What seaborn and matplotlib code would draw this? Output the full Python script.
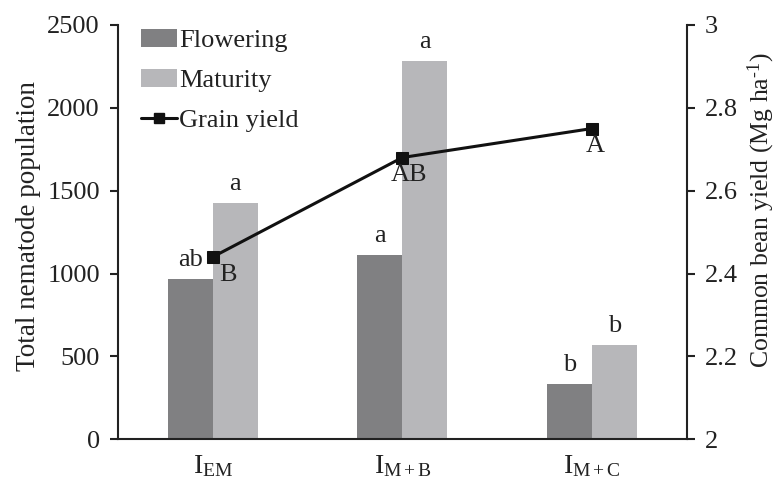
import numpy as np
import pandas as pd
import matplotlib
matplotlib.use("Agg")
import matplotlib.pyplot as plt
import seaborn as sns
from matplotlib.patches import Patch
from matplotlib.lines import Line2D

treatments = ["I$_{\\mathrm{EM}}$", "I$_{\\mathrm{M+B}}$", "I$_{\\mathrm{M+C}}$"]
flowering = [966, 1111, 332]
maturity = [1425, 2283, 568]
grain_yield = [2.44, 2.68, 2.75]
flowering_letters = ["ab", "a", "b"]
maturity_letters = ["a", "a", "b"]
yield_letters = ["B", "AB", "A"]

sns.set_style("white")
plt.rcParams["font.family"] = ["Liberation Serif", "DejaVu Serif"]
plt.rcParams["mathtext.fontset"] = "custom"
plt.rcParams["mathtext.rm"] = "Liberation Serif"
plt.rcParams["mathtext.it"] = "Liberation Serif:italic"
plt.rcParams["font.size"] = 19

df = pd.DataFrame({
    "treatment": treatments * 2,
    "stage": ["Flowering"] * 3 + ["Maturity"] * 3,
    "population": flowering + maturity,
})

c_flow = "#808082"
c_mat = "#b7b7ba"
txt = "#222222"

fig = plt.figure(figsize=(7.76, 4.8), dpi=100)
ax = fig.add_axes([0.152, 0.085, 0.733, 0.863])

sns.barplot(data=df, x="treatment", y="population", hue="stage",
            hue_order=["Flowering", "Maturity"], palette=[c_flow, c_mat],
            width=0.475, gap=0, saturation=1, edgecolor="none", linewidth=0,
            legend=False, ax=ax)

ax.set_xlim(-0.5, 2.5)
ax.set_ylim(0, 2500)
ax.set_yticks(np.arange(0, 2501, 500))
ax.set_xlabel("")
ax.set_ylabel("Total nematode population", color=txt, fontsize=19.5)
ax.yaxis.set_label_coords(-0.136, 0.515)

ax2 = ax.twinx()
xs = np.arange(len(treatments))
sns.lineplot(x=xs, y=grain_yield, ax=ax2, color="#111111", linewidth=2.2,
             marker="s", markersize=8, markeredgecolor="#111111")
ax2.set_ylim(2, 3)
ax2.set_yticks([2, 2.2, 2.4, 2.6, 2.8, 3])
ax2.set_yticklabels(["2", "2.2", "2.4", "2.6", "2.8", "3"])
ax2.set_ylabel("Common bean yield (Mg ha$^{\\text{-1}}$)", color=txt, fontsize=18.5)
ax2.yaxis.set_label_coords(1.103, 0.553)

bw = 0.475 / 2
for i in range(len(treatments)):
    ax.annotate(flowering_letters[i], (i - bw / 2, flowering[i]),
                xytext=(0, 6), textcoords="offset points",
                ha="center", va="bottom", color=txt)
    ax.annotate(maturity_letters[i], (i + bw / 2, maturity[i]),
                xytext=(0, 6), textcoords="offset points",
                ha="center", va="bottom", color=txt)
yoffs = [(11, -5), (5, -5), (2, -5)]
for i in range(len(treatments)):
    ax2.annotate(yield_letters[i], (i, grain_yield[i]),
                 xytext=yoffs[i], textcoords="offset points",
                 ha="center", va="top", color=txt)

for a in (ax, ax2):
    for s in a.spines.values():
        s.set_color("#222222")
        s.set_linewidth(1.5)
    a.spines["top"].set_visible(False)
    a.tick_params(colors="#222222", labelcolor=txt, length=6, width=1.5,
                  direction="out", pad=7)
ax.spines["right"].set_visible(False)
ax2.spines["left"].set_visible(False)
ax2.spines["bottom"].set_visible(False)
ax.tick_params(axis="x", pad=4, labelsize=20)

handles = [Patch(facecolor=c_flow, edgecolor="none", label="Flowering"),
           Patch(facecolor=c_mat, edgecolor="none", label="Maturity"),
           Line2D([0], [0], color="#111111", lw=2.2, marker="s", markersize=7,
                  label="Grain yield")]
leg = ax2.legend(handles=handles, loc="upper left",
                 bbox_to_anchor=(0.182, 0.94), bbox_transform=fig.transFigure,
                 frameon=False, handlelength=1.35, handletextpad=0.1,
                 labelspacing=0.62, borderpad=0, borderaxespad=0)
for t in leg.get_texts():
    t.set_color(txt)

fig.savefig("out.png", dpi=100)
